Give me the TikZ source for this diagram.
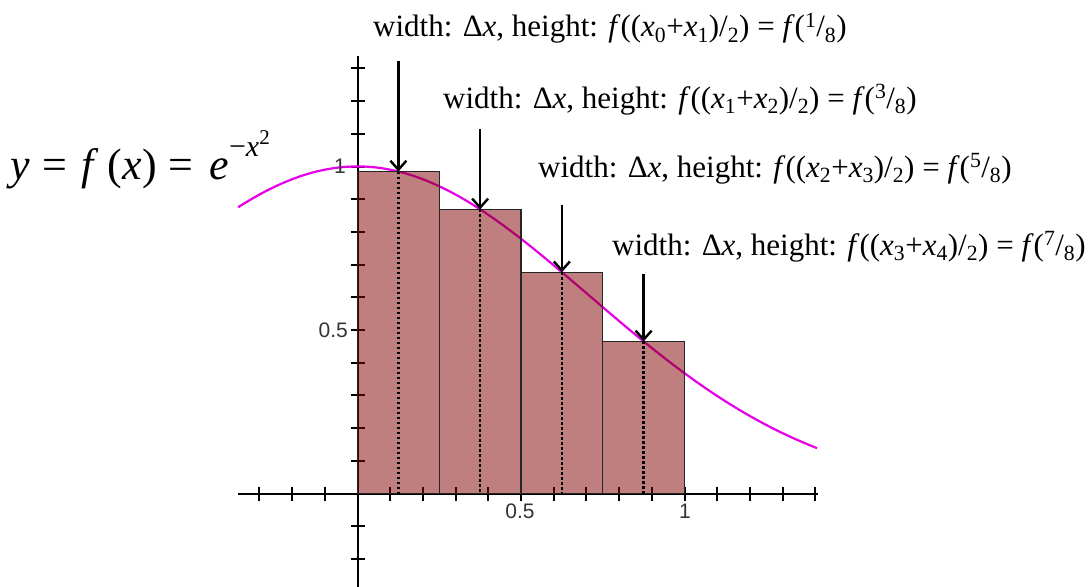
\documentclass[tikz,border=0pt]{standalone}
\usepackage{fontspec}
\setmainfont{Liberation Serif}
\newfontfamily\ticksans{Liberation Sans}
\usetikzlibrary{arrows.meta}
\definecolor{curvecol}{RGB}{230,0,230}
\definecolor{barcol}{RGB}{128,0,0}
\newcommand{\mylab}[3]{width: Δ\textit{x}, height: \textit{f}((\textit{x}\textsubscript{#1}+\textit{x}\textsubscript{#2})/\textsubscript{2}) = \textit{f}(\textsuperscript{#3}/\textsubscript{8})}
\begin{document}
\begin{tikzpicture}[x=1pt,y=-1pt]
\useasboundingbox (0,0) rectangle (1089,586);
\tikzset{
 axisline/.style={line width=2pt, black},
 ticklab/.style={font=\ticksans\fontsize{21}{21}\selectfont, text=black!80, inner sep=0pt},
 barrect/.style={fill=barcol, fill opacity=0.5, draw=black!85, line width=1.2pt},
 midline/.style={line width=2.3pt, dash pattern=on 2.5pt off 2.5pt},
 pointer/.style={line width=2.4pt, -{Straight Barb[length=9pt,width=16pt]}},
 annot/.style={font=\fontsize{31}{37}\selectfont, anchor=base west, inner sep=0pt},
 curvestyle/.style={draw=curvecol, line width=2.2pt},
}
\begin{scope}[shift={(357.5pt,-493.5pt)}, x=327pt, y=327pt]
 \coordinate (xl) at (-0.365,0);
 \coordinate (xr) at (1.407,0);
 \coordinate (yb) at (0,-0.29);
 \coordinate (yt) at (0,1.338);
 \draw[axisline] (xl) -- (xr);
 \draw[axisline] (yb) -- (yt);
 \foreach \t in {-3,...,14} {\ifnum\t=0\relax\else\draw[axisline] (\t/10,0) ++(0pt,-7pt) -- ++(0pt,14pt);\fi}
 \foreach \t in {-2,...,13} {\ifnum\t=0\relax\else\draw[axisline] (0,\t/10) ++(-7pt,0pt) -- ++(14pt,0pt);\fi}
 \draw[curvestyle] plot[domain=-0.365:1.407, samples=200] (\x,{exp(-(\x)^2)});
 \draw[barrect] (0,0) rectangle (0.25,0.9845);
 \draw[barrect] (0.25,0) rectangle (0.5,0.8688);
 \draw[barrect] (0.5,0) rectangle (0.75,0.6766);
 \draw[barrect] (0.75,0) rectangle (1,0.4650);
 \coordinate (p1) at (0.125,0.9845);
 \coordinate (p2) at (0.375,0.8688);
 \coordinate (p3) at (0.625,0.6766);
 \coordinate (p4) at (0.875,0.4650);
 \coordinate (b1) at (0.125,0);
 \coordinate (b2) at (0.375,0);
 \coordinate (b3) at (0.625,0);
 \coordinate (b4) at (0.875,0);
 \coordinate (s1) at (0.125,1.3235);
 \coordinate (s2) at (0.375,1.1147);
 \coordinate (s3) at (0.625,0.882);
 \coordinate (s4) at (0.875,0.671);
 \draw[midline] (p1) -- (b1);
 \draw[midline] (p2) -- (b2);
 \draw[midline] (p3) -- (b3);
 \draw[midline] (p4) -- (b4);
 \draw[pointer] (s1) -- (p1);
 \draw[pointer] (s2) -- (p2);
 \draw[pointer] (s3) -- (p3);
 \draw[pointer] (s4) -- (p4);
\end{scope}
\node[ticklab] (tx05) at (520,511.5) {0.5};
\node[ticklab] (tx1) at (685,511.5) {1};
\node[ticklab, anchor=east] (ty05) at (348,330) {0.5};
\node[ticklab, anchor=east] (ty1) at (346,166.5) {1};
\node[annot] (l1) at (373,37) {\mylab{0}{1}{1}};
\node[annot] (l2) at (443,108) {\mylab{1}{2}{3}};
\node[annot] (l3) at (538,177) {\mylab{2}{3}{5}};
\node[annot] (l4) at (612,255) {\mylab{3}{4}{7}};
\node[font=\fontsize{44}{52}\selectfont, anchor=base west, inner sep=0pt] (formula) at (10,179) {\textit{y}\hspace{13pt}=\hspace{14pt}\textit{f}\hspace{9pt}(\textit{x})\hspace{12pt}=\hspace{16pt}\textit{e}\raisebox{0.52em}{\fontsize{30}{30}\selectfont −\textit{x}\raisebox{0.38em}{\fontsize{21}{21}\selectfont 2}}};
\end{tikzpicture}
\end{document}
